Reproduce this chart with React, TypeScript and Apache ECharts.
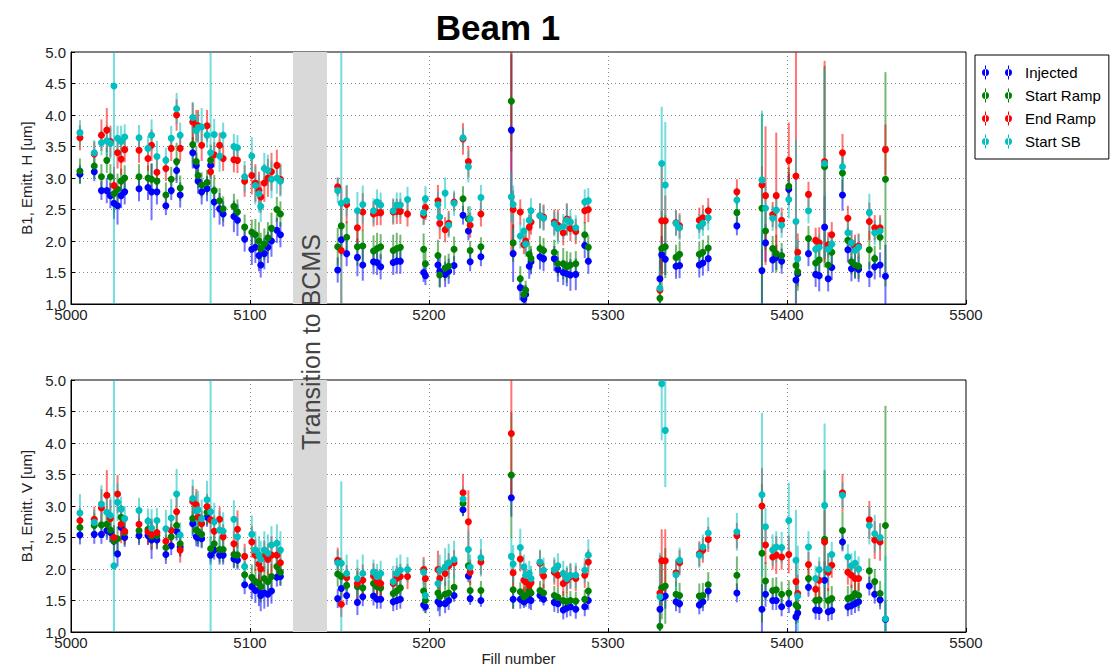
import React, { useEffect, useRef } from "react";
import * as echarts from "echarts";

// Fill numbers (shared by both panels)
const fills = [
  5005, 5013, 5017, 5020, 5022, 5024, 5026, 5028, 5030, 5038,
  5043, 5045, 5048, 5053, 5056, 5059, 5061, 5068, 5070, 5071,
  5073, 5076, 5078, 5080, 5083, 5085, 5091, 5093, 5097, 5101,
  5103, 5105, 5106, 5108, 5110, 5112, 5115, 5117, 5149, 5151,
  5154, 5160, 5163, 5169, 5171, 5173, 5180, 5182, 5184, 5188,
  5197, 5198, 5205, 5206, 5209, 5211, 5214, 5219, 5222, 5223,
  5229, 5246, 5247, 5251, 5253, 5254, 5256, 5257, 5262, 5264,
  5270, 5272, 5275, 5277, 5279, 5282, 5287, 5289, 5329, 5330,
  5332, 5338, 5340, 5351, 5353, 5356, 5372, 5386, 5388, 5392,
  5394, 5397, 5401, 5405, 5406, 5412, 5416, 5418, 5421, 5423,
  5425, 5431, 5434, 5436, 5438, 5440, 5446, 5449, 5452, 5455,
];

// ---- Horizontal emittance (top panel) ----
const hInj = [
  3.06, 3.10, 2.80, 2.80, 2.72, 2.60, 2.56, 2.72, 2.78, 2.83,
  2.85, 2.78, 2.78, 2.56, 2.80, 3.12, 2.73, 3.40, 3.20, 2.95,
  2.78, 2.83, 3.20, 2.62, 2.51, 2.43, 2.39, 2.33, 2.03, 1.87,
  1.90, 1.77, 1.62, 1.80, 1.90, 2.00, 2.17, 2.10, 1.54, 2.02,
  1.80, 1.74, 1.62, 1.67, 1.66, 1.59, 1.66, 1.68, 1.68, null,
  1.50, 1.45, 1.62, 1.52, 1.47, 1.52, 1.61, 2.41, 2.16, 1.67,
  1.75, 3.76, 1.80, 1.26, 1.08, 1.15, 1.60, 1.67, 1.75, 1.72,
  1.72, 1.55, 1.50, 1.48, 1.46, 1.47, 1.93, 1.68, 1.40, 1.78,
  1.71, 1.60, 1.61, 1.62, 1.65, 1.72, 2.24, 1.53, 1.97, 1.70,
  1.74, 1.68, 2.82, 1.38, 1.48, 1.80, 1.47, 1.45, 2.22, 1.40,
  1.58, 2.73, 1.86, 1.56, 1.60, 1.55, 1.47, 1.59, 1.62, 1.44,
];
const hSr = [
  3.11, 3.19, 3.02, 3.28, 3.02, 2.75, 2.82, 2.95, 3.00, 3.02,
  3.00, 2.98, 2.95, 2.73, 2.98, 3.26, 2.84, 3.53, 3.26, 3.04,
  2.89, 2.93, 3.28, 2.80, 2.64, 2.51, 2.55, 2.46, 2.22, 2.14,
  2.10, 2.00, 1.88, 1.95, 2.05, 2.20, 2.50, 2.43, 1.91, 2.24,
  2.06, 1.91, 1.92, 1.84, 1.88, 1.91, 1.85, 1.88, 1.90, null,
  1.87, 1.64, 1.77, 1.46, 1.57, 1.60, 1.87, 2.67, 2.35, 1.85,
  1.91, 4.22, 1.97, 1.40, 1.15, 1.22, 1.79, 1.72, 1.88, 1.85,
  1.82, 1.64, 1.64, 1.59, 1.62, 1.64, 2.10, 1.90, 1.09, 1.88,
  1.91, 1.74, 1.79, 1.79, 1.82, 1.89, 2.45, 2.52, 2.16, 1.88,
  1.80, 1.77, 2.87, 1.61, 1.51, 2.04, 1.65, 1.70, 3.18, 1.62,
  1.82, 3.08, 2.01, 1.67, 1.62, 1.60, 1.86, 1.72, 2.06, 2.98,
];
const hEr = [
  3.64, 3.38, 3.68, 3.76, 3.58, 2.88, 3.40, 3.30, 3.45, 3.44,
  3.31, 3.52, 3.09, 3.15, 3.47, 4.00, 3.47, 3.89, 3.83, 3.83,
  3.52, 3.83, 3.10, 3.37, 3.52, 3.31, 3.29, 3.28, 2.95, 3.04,
  2.92, 2.80, 2.70, 2.92, 3.00, 3.10, 3.20, 2.98, 2.86, 1.85,
  2.58, 2.21, 2.46, 2.43, 2.45, 2.45, 2.46, 2.47, 2.47, 2.43,
  2.41, 2.53, 2.64, 2.28, 2.18, 2.28, 2.62, 3.62, 3.26, 2.25,
  2.43, 5.30, 2.50, 2.46, 1.94, 2.00, 2.22, 2.30, 2.40, 2.38,
  2.30, 2.25, 2.13, 2.35, 2.20, 2.15, 2.48, 2.50, 1.22, 2.32,
  2.32, 2.29, 2.24, 2.33, 2.37, 2.48, 2.78, 2.89, 2.72, 2.42,
  2.72, 2.33, 3.28, 3.03, 1.82, 2.74, 2.01, 1.97, 3.26, 1.94,
  2.10, 3.40, 2.36, 1.97, 1.90, 1.92, 2.31, 2.21, 2.21, 3.45,
];
const hSb = [
  3.72, 3.40, 3.56, 3.59, 3.55, 4.46, 3.63, 3.58, 3.65, 3.64,
  3.47, 3.68, 3.34, 3.28, 3.63, 4.10, 3.68, 3.96, 3.75, 3.80,
  3.81, 3.68, 3.40, 3.69, 3.35, 3.68, 3.50, 3.48, 3.02, 3.35,
  2.88, 2.75, 2.55, 3.15, 3.12, 2.98, 3.00, 2.95, 2.80, 2.60,
  2.64, 2.48, 2.58, 2.48, 2.62, 2.57, 2.48, 2.57, 2.57, 2.66,
  2.45, 2.67, 2.58, 2.38, 2.76, 2.25, 2.60, 3.64, 3.18, 2.35,
  2.69, 2.70, 2.58, 2.08, 2.16, 1.95, 2.33, 2.48, 2.40, 2.36,
  2.27, 2.20, 2.23, 2.33, 2.30, 2.21, 2.62, 2.64, 1.25, 3.23,
  2.89, 2.28, 2.21, 2.23, 2.28, 2.37, 2.65, 2.97, 2.52, 2.36,
  2.49, 2.25, 2.66, 2.31, 1.72, 2.48, 1.87, 1.90, 3.23, 1.87,
  1.95, 3.18, 2.13, 1.97, 1.85, 1.90, 2.45, 2.13, 2.16, null,
];
const hInjErr = [
  0.15, 0.15, 0.15, 0.2, 0.2, 0.25, 0.3, 0.2, 0.2, 0.2,
  0.2, 0.45, 0.2, 0.15, 0.15, 0.2, 0.2, 0.25, 0.2, 0.2,
  0.2, 0.2, 0.2, 0.25, 0.25, 0.2, 0.25, 0.25, 0.2, 0.25,
  0.25, 0.25, 0.2, 0.25, 0.25, 0.25, 0.2, 0.2, 0.2, 0.25,
  0.2, 0.3, 0.25, 0.2, 0.2, 0.2, 0.2, 0.2, 0.2, 0.2,
  0.15, 0.15, 0.2, 0.25, 0.2, 0.2, 0.15, 0.15, 0.15, 0.15,
  0.15, 1.2, 0.45, 0.2, 0.15, 0.15, 0.2, 0.2, 0.2, 0.2,
  0.2, 0.2, 0.2, 0.2, 0.25, 0.25, 0.2, 0.2, 0.45, 0.3,
  0.25, 0.2, 0.2, 0.2, 0.2, 0.2, 0.15, 0.6, 0.3, 0.2,
  0.2, 0.2, 0.25, 0.45, 0.2, 0.2, 0.2, 0.25, 0.5, 0.2,
  0.2, 0.25, 0.2, 0.2, 0.2, 0.2, 0.2, 0.2, 0.2, 0.5,
];
const hSrErr = [
  0.2, 0.2, 0.2, 0.2, 0.2, 0.3, 0.25, 0.2, 0.2, 0.2,
  0.2, 0.25, 0.2, 0.2, 0.2, 0.3, 0.2, 0.3, 0.25, 0.2,
  0.2, 0.2, 0.25, 0.25, 0.2, 0.2, 0.2, 0.2, 0.2, 0.2,
  0.25, 0.3, 0.25, 0.25, 0.25, 0.25, 0.2, 0.2, 0.3, 0.35,
  0.25, 0.3, 0.25, 0.25, 0.25, 0.2, 0.25, 0.25, 0.2, 0.2,
  0.25, 0.2, 0.25, 0.2, 0.2, 0.2, 0.2, 0.2, 0.2, 0.15,
  0.15, 0.8, 0.3, 0.2, 0.15, 0.15, 0.2, 0.2, 0.2, 0.2,
  0.2, 0.2, 0.25, 0.25, 0.2, 0.2, 0.2, 0.2, 0.8, 0.6,
  0.5, 0.2, 0.2, 0.2, 0.2, 0.2, 0.2, 1.5, 0.3, 0.2,
  0.3, 0.2, 0.3, 0.3, 0.3, 0.2, 0.2, 0.25, 1.6, 0.2,
  0.2, 0.3, 0.2, 0.2, 0.2, 0.2, 0.3, 0.2, 0.2, 1.7,
];
const hErErr = [
  0.2, 0.2, 0.25, 0.35, 0.25, 0.3, 0.25, 0.25, 0.2, 0.2,
  0.2, 0.25, 0.2, 0.2, 0.2, 0.25, 0.2, 0.3, 0.25, 0.25,
  0.25, 0.25, 0.25, 0.2, 0.2, 0.2, 0.2, 0.2, 0.25, 0.3,
  0.3, 0.3, 0.25, 0.3, 0.3, 0.3, 0.25, 0.25, 0.15, 1.0,
  0.3, 0.25, 0.3, 0.2, 0.2, 0.2, 0.2, 0.2, 0.2, 0.2,
  0.15, 0.2, 0.25, 0.25, 0.2, 0.2, 0.15, 0.25, 0.25, 0.2,
  0.2, 3.5, 0.3, 0.2, 0.15, 0.2, 0.2, 0.2, 0.2, 0.2,
  0.2, 0.25, 0.2, 0.25, 0.2, 0.2, 0.2, 0.2, 0.3, 0.9,
  0.4, 0.2, 0.2, 0.2, 0.2, 0.2, 0.2, 0.3, 1.1, 0.2,
  1.0, 0.2, 0.6, 2.5, 0.3, 0.2, 0.2, 0.25, 1.6, 0.2,
  0.2, 0.3, 0.2, 0.2, 0.2, 0.2, 0.3, 0.2, 0.2, 0.4,
];
const hSbErr = [
  0.2, 0.2, 0.2, 0.25, 0.25, 3.6, 0.2, 0.25, 0.2, 0.2,
  0.2, 0.25, 0.25, 0.2, 0.2, 0.25, 0.2, 0.25, 0.2, 0.25,
  0.3, 0.2, 2.5, 0.25, 0.25, 0.2, 0.2, 0.2, 0.25, 0.3,
  0.3, 0.3, 0.25, 0.25, 0.25, 0.3, 0.25, 0.25, 0.2, 3.0,
  0.25, 0.3, 0.3, 0.2, 0.2, 0.2, 0.2, 0.2, 0.2, 0.2,
  0.2, 0.2, 0.2, 0.2, 0.25, 0.2, 0.2, 0.15, 0.25, 0.2,
  0.2, 0.4, 0.3, 0.2, 0.2, 0.2, 0.2, 0.2, 0.2, 0.2,
  0.2, 0.25, 0.2, 0.25, 0.2, 0.2, 0.2, 0.2, 0.3, 0.9,
  1.0, 0.2, 0.2, 0.2, 0.2, 0.2, 0.2, 1.1, 0.4, 0.2,
  0.3, 0.2, 0.3, 1.3, 0.3, 0.2, 0.2, 0.2, 1.5, 0.2,
  0.2, 0.2, 0.2, 0.2, 0.2, 0.2, 0.3, 0.2, 0.2, 0,
];

// ---- Vertical emittance (bottom panel) ----
const vInj = [
  2.54, 2.55, 2.55, 2.61, 2.58, 2.44, 2.24, 2.66, 2.50, 2.53,
  2.53, 2.46, 2.46, 2.23, 2.37, 2.60, 2.35, 2.72, 2.51, 2.50,
  2.48, 2.82, 2.22, 2.30, 2.22, 2.22, 2.16, 2.14, 1.75, 1.72,
  1.66, 1.66, 1.58, 1.62, 1.60, 1.65, 1.87, 1.88, 1.53, 1.69,
  1.58, 1.47, 1.56, 1.57, 1.52, 1.52, 1.48, 1.50, 1.52, null,
  1.43, 1.40, 1.48, 1.45, 1.45, 1.50, 1.58, 2.94, 1.89, 1.53,
  1.50, 3.13, 1.52, 1.52, 1.48, 1.50, 1.52, 1.50, 1.58, 1.52,
  1.47, 1.45, 1.35, 1.38, 1.40, 1.36, 1.40, 1.50, 1.36, 1.55,
  1.57, 1.48, 1.45, 1.43, 1.48, 1.65, 1.62, 1.36, 1.60, 1.50,
  1.50, 1.40, 1.45, 1.24, 1.30, 1.71, 1.35, 1.34, 1.82, 1.32,
  1.34, 2.43, 1.40, 1.42, 1.45, 1.48, 1.73, 1.60, 1.51, 1.20,
];
const vSr = [
  2.66, 2.69, 2.70, 2.71, 2.62, 2.45, 2.48, 2.82, 2.58, 2.61,
  2.63, 2.52, 2.53, 2.34, 2.51, 2.69, 2.40, 2.80, 2.62, 2.59,
  2.55, 2.90, 2.32, 2.40, 2.31, 2.31, 2.23, 2.22, 1.91, 1.87,
  1.80, 1.77, 1.72, 1.85, 1.80, 1.88, 2.04, 1.95, 1.92, 1.88,
  1.74, 1.72, 1.70, 1.77, 1.72, 1.70, 1.61, 1.65, 1.70, null,
  1.65, 1.50, 1.62, 1.56, 1.60, 1.62, 1.71, 3.04, 2.05, 1.66,
  1.66, 3.49, 1.67, 1.64, 1.56, 1.58, 1.66, 1.62, 1.66, 1.62,
  1.58, 1.55, 1.50, 1.48, 1.50, 1.49, 1.52, 1.65, 1.09, 1.70,
  1.73, 1.60, 1.58, 1.57, 1.58, 1.75, 1.90, 2.25, 1.81, 1.66,
  1.67, 1.60, 1.62, 1.43, 1.40, 1.85, 1.50, 1.51, 2.47, 1.50,
  1.53, 2.61, 1.53, 1.55, 1.61, 1.58, 1.97, 1.80, 1.61, 2.69,
];
const vEr = [
  2.77, 2.79, 2.97, 3.17, 2.80, 2.50, 3.19, 2.71, 2.60, 2.71,
  2.59, 2.55, 2.58, 2.44, 2.61, 2.91, 2.30, 3.07, 3.02, 2.83,
  2.72, 2.99, 2.78, 2.60, 2.79, 2.51, 2.40, 2.63, 2.20, 2.43,
  2.22, 2.08, 2.00, 2.20, 2.15, 2.22, 2.22, 2.10, 2.14, 1.44,
  1.86, 1.77, 1.82, 1.89, 1.80, 1.77, 1.77, 1.85, 1.88, 1.88,
  1.99, 1.85, 1.99, 1.85, 1.93, 2.05, 2.10, 3.21, 2.75, 1.95,
  2.11, 4.15, 1.94, 2.16, 1.82, 1.80, 1.74, 1.78, 2.09, 1.89,
  1.95, 1.90, 1.77, 1.82, 1.88, 1.85, 1.90, 2.11, 1.62, 2.13,
  2.13, 1.94, 2.10, 2.24, 2.30, 2.47, 2.53, 3.00, 2.38, 2.19,
  2.22, 2.19, 2.23, 1.80, 1.61, 2.07, 1.68, 1.82, 2.43, 1.95,
  2.06, 3.21, 1.95, 1.90, 1.85, 1.85, 2.78, 2.46, 2.43, null,
];
const vSb = [
  2.89, 2.74, 3.03, 2.90, 2.85, 2.05, 3.06, 2.95, 2.80, 2.93,
  2.76, 2.65, 2.77, 2.64, 2.81, 3.19, 2.54, 3.12, 2.92, 2.94,
  2.80, 3.10, 2.91, 2.75, 2.62, 2.60, 2.79, 2.51, 2.04, 2.55,
  2.30, 2.22, 2.15, 2.30, 2.25, 2.38, 2.41, 2.30, 2.10, 2.09,
  1.93, 1.85, 1.93, 1.95, 1.88, 1.93, 1.80, 1.93, 1.98, 1.99,
  1.95, 1.58, 1.77, 1.98, 2.03, 2.10, 2.15, 3.11, 2.31, 2.03,
  2.18, 2.20, 2.08, 2.34, 2.03, 1.90, 1.93, 1.85, 2.11, 1.98,
  1.99, 2.05, 1.93, 1.85, 1.90, 1.90, 1.98, 2.22, 1.56, 4.94,
  4.20, 1.91, 2.14, 2.22, 2.35, 2.57, 2.59, 3.18, 2.67, 2.30,
  2.35, 2.34, 2.77, 2.14, 1.57, 2.35, 1.85, 1.99, 3.01, 2.00,
  2.23, 3.17, 2.19, 2.05, 2.09, 2.00, 2.69, 2.56, 2.50, 1.21,
];
const vInjErr = [
  0.15, 0.15, 0.15, 0.15, 0.15, 0.2, 0.2, 0.2, 0.15, 0.15,
  0.15, 0.3, 0.15, 0.15, 0.15, 0.15, 0.15, 0.2, 0.15, 0.15,
  0.15, 0.15, 0.15, 0.15, 0.15, 0.15, 0.15, 0.15, 0.15, 0.2,
  0.2, 0.25, 0.25, 0.25, 0.2, 0.2, 0.15, 0.15, 0.15, 0.15,
  0.15, 0.2, 0.15, 0.15, 0.15, 0.15, 0.15, 0.15, 0.15, 0.15,
  0.1, 0.1, 0.15, 0.2, 0.15, 0.15, 0.1, 0.1, 0.1, 0.1,
  0.1, 0.3, 0.15, 0.15, 0.1, 0.1, 0.15, 0.15, 0.1, 0.1,
  0.15, 0.15, 0.15, 0.15, 0.15, 0.15, 0.15, 0.15, 0.35, 0.2,
  0.2, 0.15, 0.15, 0.15, 0.15, 0.15, 0.15, 0.4, 0.2, 0.15,
  0.15, 0.15, 0.15, 0.25, 0.15, 0.15, 0.15, 0.15, 0.3, 0.15,
  0.15, 0.15, 0.15, 0.15, 0.15, 0.15, 0.15, 0.15, 0.15, 0.3,
];
const vSrErr = [
  0.2, 0.2, 0.2, 0.2, 0.2, 0.25, 0.2, 0.2, 0.2, 0.2,
  0.2, 0.2, 0.2, 0.2, 0.2, 0.2, 0.2, 0.25, 0.2, 0.2,
  0.2, 0.2, 0.2, 0.2, 0.2, 0.2, 0.2, 0.2, 0.2, 0.2,
  0.2, 0.25, 0.25, 0.2, 0.2, 0.2, 0.2, 0.2, 0.2, 0.3,
  0.2, 0.25, 0.2, 0.2, 0.2, 0.2, 0.2, 0.2, 0.2, 0.2,
  0.2, 0.2, 0.2, 0.2, 0.2, 0.2, 0.2, 0.2, 0.2, 0.15,
  0.15, 1.0, 0.3, 0.15, 0.15, 0.15, 0.15, 0.15, 0.15, 0.15,
  0.15, 0.15, 0.15, 0.15, 0.15, 0.15, 0.15, 0.15, 0.6, 0.5,
  0.6, 0.2, 0.2, 0.2, 0.2, 0.2, 0.3, 1.1, 0.3, 0.2,
  0.2, 0.2, 0.2, 0.3, 0.2, 0.2, 0.2, 0.2, 1.1, 0.2,
  0.2, 0.3, 0.2, 0.2, 0.2, 0.2, 0.2, 0.2, 0.2, 1.9,
];
const vErErr = [
  0.2, 0.2, 0.3, 0.4, 0.3, 0.2, 0.3, 0.3, 0.2, 0.2,
  0.2, 0.25, 0.2, 0.2, 0.2, 0.3, 0.2, 0.25, 0.25, 0.2,
  0.2, 0.2, 0.2, 0.25, 0.2, 0.2, 0.2, 0.3, 0.2, 0.25,
  0.25, 0.25, 0.2, 0.25, 0.25, 0.3, 0.25, 0.2, 0.2, 0.2,
  0.2, 0.25, 0.25, 0.2, 0.2, 0.2, 0.2, 0.2, 0.2, 0.2,
  0.2, 0.2, 0.3, 0.2, 0.2, 0.2, 0.2, 0.3, 0.5, 0.2,
  0.2, 1.0, 0.3, 0.2, 0.2, 0.2, 0.2, 0.2, 0.2, 0.2,
  0.2, 0.2, 0.2, 0.2, 0.2, 0.2, 0.2, 0.2, 0.6, 0.5,
  0.5, 0.2, 0.2, 0.2, 0.2, 0.2, 0.2, 0.6, 0.3, 0.2,
  0.3, 0.2, 0.3, 0.3, 0.3, 0.2, 0.2, 0.3, 0.5, 0.3,
  0.2, 0.3, 0.2, 0.2, 0.2, 0.2, 0.3, 0.3, 0.3, 0,
];
const vSbErr = [
  0.3, 0.2, 0.3, 0.3, 0.3, 3.5, 0.3, 0.2, 0.2, 0.2,
  0.2, 0.3, 0.2, 0.3, 0.3, 0.4, 0.2, 0.3, 0.3, 0.3,
  0.3, 0.3, 2.5, 0.3, 0.3, 0.3, 0.3, 0.3, 0.3, 0.3,
  0.3, 0.3, 0.3, 0.3, 0.3, 0.3, 0.3, 0.3, 0.2, 1.3,
  0.3, 0.3, 0.3, 0.2, 0.2, 0.2, 0.25, 0.25, 0.25, 0.2,
  0.2, 0.2, 0.2, 0.25, 0.3, 0.3, 0.3, 0.2, 0.3, 0.2,
  0.3, 0.3, 0.3, 0.3, 0.2, 0.2, 0.2, 0.2, 0.2, 0.2,
  0.2, 0.2, 0.2, 0.2, 0.2, 0.2, 0.2, 0.25, 0.7, 0.9,
  0.9, 0.25, 0.2, 0.2, 0.2, 0.25, 0.3, 1.3, 0.3, 0.25,
  0.25, 0.25, 0.6, 0.8, 0.8, 0.25, 0.2, 0.2, 1.3, 0.25,
  0.2, 0.2, 0.2, 0.2, 0.2, 0.2, 0.3, 0.3, 0.2, 1.0,
];

const seriesNames = ["Injected", "Start Ramp", "End Ramp", "Start SB"];
const seriesColors = ["#0000ff", "#008000", "#ff0000", "#00bfbf"];
const topValues = [hInj, hSr, hEr, hSb];
const topErrors = [hInjErr, hSrErr, hErErr, hSbErr];
const botValues = [vInj, vSr, vEr, vSb];
const botErrors = [vInjErr, vSrErr, vErErr, vSbErr];

const yTicksMin = 1.0;
const yTicksMax = 5.0;
const xMin = 5000;
const xMax = 5500;
const bcmsBand = [5124, 5143];

const FONT = '"Liberation Sans", Arial, sans-serif';

const LEGEND_ICON =
  "path://M3.5,1h1v14h-1z M0.5,8a3.5,3.5 0 1 0 7,0a3.5,3.5 0 1 0 -7,0z M26.5,1h1v14h-1z M23.5,8a3.5,3.5 0 1 0 7,0a3.5,3.5 0 1 0 -7,0z";

export default function App() {
  const ref = useRef<HTMLDivElement>(null);

  useEffect(() => {
    const chart = echarts.init(ref.current as HTMLDivElement, null, { renderer: "svg" });
    const series: any[] = [];
    [0, 1].forEach((g) => {
      const valsAll = g === 0 ? topValues : botValues;
      const errsAll = g === 0 ? topErrors : botErrors;
      seriesNames.forEach((name, si) => {
        const color = seriesColors[si];
        const pts = fills
          .map((f, i) => [f, valsAll[si][i], errsAll[si][i]])
          .filter((p) => p[1] !== null && p[1] !== undefined) as number[][];
        series.push({
          type: "custom",
          name,
          xAxisIndex: g,
          yAxisIndex: g,
          silent: true,
          clip: true,
          data: pts,
          encode: { x: 0, y: 1 },
          z: 3,
          renderItem: (params: any, api: any) => {
            const x = api.value(0);
            const y = api.value(1);
            const e = api.value(2);
            const lo = Math.max(yTicksMin, y - e);
            const hi = Math.min(yTicksMax, y + e);
            if (hi <= lo) return null;
            const p1 = api.coord([x, lo]);
            const p2 = api.coord([x, hi]);
            return {
              type: "line",
              shape: { x1: p1[0], y1: p1[1], x2: p2[0], y2: p2[1] },
              style: { stroke: color, lineWidth: 2, opacity: 0.55 },
            };
          },
        });
        series.push({
          type: "scatter",
          name,
          xAxisIndex: g,
          yAxisIndex: g,
          data: pts.map((p) => [p[0], p[1]]),
          symbol: "circle",
          symbolSize: 7,
          itemStyle: { color, opacity: 1 },
          silent: true,
          z: 3,
          markArea:
            si === 0
              ? {
                  silent: true,
                  itemStyle: { color: "#d9d9d9", opacity: 1 },
                  data: [[{ xAxis: bcmsBand[0] }, { xAxis: bcmsBand[1] }]],
                }
              : undefined,
        });
      });
    });

    const gridTops = [52, 380];
    const yNames = ["B1, Emitt. H [um]", "B1, Emitt. V [um]"];

    chart.setOption({
      animation: false,
      backgroundColor: "#ffffff",
      textStyle: { fontFamily: FONT },
      grid: gridTops.map((t) => ({
        left: 71,
        top: t,
        width: 895,
        height: 252,
        show: true,
        borderColor: "#000",
        borderWidth: 1,
        backgroundColor: "transparent",
      })),
      xAxis: [0, 1].map((g) => ({
        type: "value",
        gridIndex: g,
        min: xMin,
        max: xMax,
        interval: 100,
        name: g === 1 ? "Fill number" : "",
        nameLocation: "middle",
        nameGap: 19,
        nameTextStyle: { fontSize: 15, color: "#222", fontFamily: FONT },
        axisLine: { show: true, lineStyle: { color: "#000", width: 1 } },
        axisTick: { show: true, inside: true, length: 4, lineStyle: { color: "#000" } },
        axisLabel: {
          fontSize: 15,
          color: "#222",
          margin: 3,
          fontFamily: FONT,
          formatter: (v: number) => String(v),
        },
        splitLine: { show: true, lineStyle: { color: "#888", type: [1, 3], width: 1 } },
      })),
      yAxis: [0, 1].map((g) => ({
        type: "value",
        gridIndex: g,
        min: yTicksMin,
        max: yTicksMax,
        interval: 0.5,
        name: yNames[g],
        nameLocation: "middle",
        nameGap: 34,
        nameTextStyle: { fontSize: 15, color: "#222", fontFamily: FONT },
        axisLine: { show: true, lineStyle: { color: "#000", width: 1 } },
        axisTick: { show: true, inside: true, length: 4, lineStyle: { color: "#000" } },
        axisLabel: {
          fontSize: 15,
          color: "#222",
          margin: 5,
          fontFamily: FONT,
          formatter: (v: number) => v.toFixed(1),
        },
        splitLine: { show: true, lineStyle: { color: "#888", type: [1, 3], width: 1 } },
      })),
      legend: {
        orient: "vertical",
        left: 975,
        top: 55,
        selectedMode: false,
        data: seriesNames.map((n, i) => ({
          name: n,
          icon: LEGEND_ICON,
          itemStyle: { color: seriesColors[i] },
        })),
        itemWidth: 30,
        itemHeight: 14,
        itemGap: 8,
        padding: [10, 8, 10, 7],
        borderColor: "#000",
        borderWidth: 1,
        textStyle: { fontSize: 15, color: "#000", fontFamily: FONT, padding: [0, 0, 0, 8] },
      },
      graphic: [
        {
          type: "text",
          x: 498,
          y: 27,
          style: {
            text: "Beam 1",
            fill: "#000",
            font: 'bold 35px "Liberation Sans", Arial, sans-serif',
            align: "center",
            verticalAlign: "middle",
          },
          z: 100,
        },
        {
          type: "text",
          x: 311,
          y: 342,
          rotation: Math.PI / 2,
          style: {
            text: "Transition to BCMS",
            fill: "#444",
            font: '25px "Liberation Sans", Arial, sans-serif',
            align: "center",
            verticalAlign: "middle",
          },
          z: 100,
        },
      ],
      series,
    });

    return () => {
      chart.dispose();
    };
  }, []);

  return (
    <div
      ref={ref}
      style={{ position: "absolute", left: 0, top: 0, width: 1115, height: 671, background: "#fff" }}
    />
  );
}
